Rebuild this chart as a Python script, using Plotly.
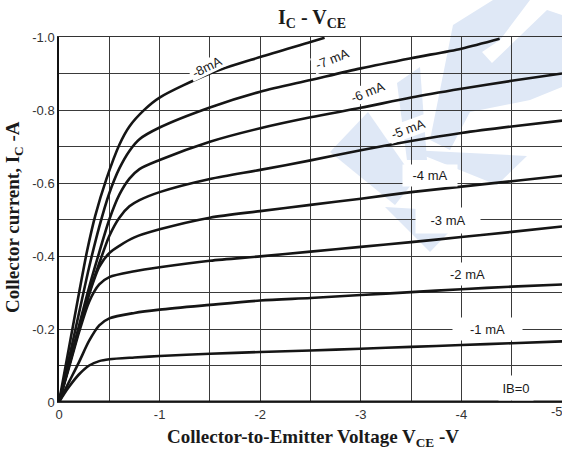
import plotly.graph_objects as go

# ---------------- data ----------------
ib_labels = ["-8mA", "-7 mA", "-6 mA", "-5 mA", "-4 mA", "-3 mA", "-2 mA", "-1 mA", "IB=0"]

vce_8 = [0, -0.1, -0.2, -0.28, -0.36, -0.47, -0.6, -0.7, -0.85, -1, -1.5, -2, -2.5, -2.64]
ic_8 = [0, -0.15, -0.3, -0.415, -0.51, -0.61, -0.705, -0.755, -0.801, -0.834, -0.9, -0.945, -0.986, -0.998]

vce_7 = [0, -0.1, -0.2, -0.3, -0.4, -0.5, -0.6, -0.7, -0.8, -1, -1.5, -2, -2.5, -3, -3.5, -4, -4.38]
ic_7 = [0, -0.12, -0.245, -0.37, -0.48, -0.572, -0.64, -0.688, -0.72, -0.752, -0.807, -0.85, -0.882, -0.914, -0.942, -0.968, -0.995]

vce_6 = [0, -0.1, -0.2, -0.3, -0.4, -0.5, -0.6, -0.7, -0.8, -1, -1.5, -2, -2.5, -3, -3.5, -4, -4.5, -5]
ic_6 = [0, -0.105, -0.21, -0.315, -0.41, -0.5, -0.568, -0.612, -0.638, -0.663, -0.713, -0.75, -0.78, -0.806, -0.834, -0.858, -0.88, -0.9]

vce_5 = [0, -0.1, -0.2, -0.3, -0.4, -0.5, -0.6, -0.7, -0.8, -1, -1.5, -2, -2.5, -3, -3.5, -4, -4.5, -5]
ic_5 = [0, -0.1, -0.2, -0.3, -0.38, -0.455, -0.505, -0.536, -0.553, -0.575, -0.611, -0.636, -0.662, -0.69, -0.715, -0.737, -0.755, -0.771]

vce_4 = [0, -0.1, -0.2, -0.3, -0.4, -0.5, -0.6, -0.75, -1, -1.5, -2, -2.5, -3, -3.5, -4, -4.5, -5]
ic_4 = [0, -0.1, -0.2, -0.295, -0.37, -0.408, -0.428, -0.451, -0.473, -0.505, -0.523, -0.54, -0.557, -0.575, -0.59, -0.605, -0.62]

vce_3 = [0, -0.1, -0.2, -0.3, -0.4, -0.5, -0.75, -1, -1.5, -2, -2.5, -3, -3.5, -4, -4.5, -5]
ic_3 = [0, -0.095, -0.192, -0.275, -0.322, -0.342, -0.358, -0.369, -0.387, -0.399, -0.412, -0.425, -0.438, -0.452, -0.466, -0.481]

vce_2 = [0, -0.1, -0.2, -0.3, -0.4, -0.5, -0.75, -1, -1.5, -2, -2.5, -3, -3.5, -4, -4.5, -5]
ic_2 = [0, -0.055, -0.11, -0.168, -0.21, -0.229, -0.244, -0.253, -0.266, -0.278, -0.285, -0.293, -0.301, -0.309, -0.316, -0.322]

vce_1 = [0, -0.05, -0.1, -0.2, -0.3, -0.4, -0.5, -0.75, -1, -1.5, -2, -2.5, -3, -3.5, -4, -4.5, -5]
ic_1 = [0, -0.022, -0.042, -0.076, -0.1, -0.112, -0.117, -0.122, -0.126, -0.132, -0.137, -0.141, -0.146, -0.151, -0.156, -0.161, -0.166]

vce_0 = [0, -5]
ic_0 = [0, 0]

x_tickvals = [0, -1, -2, -3, -4]
x_ticktext = ["0", "-1", "-2", "-3", "-4"]
x_last_tick = "-5"
x_gridvals = [-0.5, -1, -1.5, -2, -2.5, -3, -3.5, -4, -4.5]
y_tickvals = [0, -0.2, -0.4, -0.6, -0.8, -1.0]
y_ticktext = ["0", "-0.2", "-0.4", "-0.6", "-0.8", "-1.0"]
y_gridvals = [-0.1, -0.2, -0.3, -0.4, -0.5, -0.6, -0.7, -0.8, -0.9]

# label anchor positions (data coords) and label box styling
label_x = [-1.471, -2.714, -3.072, -3.469, -3.688, -3.867, -4.056, -4.259, -4.543]
label_y = [-0.918, -0.941, -0.848, -0.749, -0.6205, -0.497, -0.351, -0.200, -0.038]
label_angle = [-26, -22, -22, -20, 0, 0, 0, 0, 0]
label_w = [36, 40, 40, 40, 54, 64, 45, 69, 34]
label_h = [14, 16, 16, 16, 21, 25, 22, 22, 24]

# ---------------- figure ----------------
W, H = 562, 452
ML, MR, MT, MB = 59, 0, 37, 50
PW, PH = W - ML - MR, H - MT - MB

fig = go.Figure()
series = [(vce_8, ic_8), (vce_7, ic_7), (vce_6, ic_6), (vce_5, ic_5), (vce_4, ic_4),
          (vce_3, ic_3), (vce_2, ic_2), (vce_1, ic_1)]
for (xs, ys), name in zip(series, ib_labels[:8]):
    fig.add_trace(go.Scatter(x=xs, y=ys, mode="lines", name=name,
                             line=dict(color="#151515", width=2.6, shape="spline", smoothing=0.8),
                             hoverinfo="skip", showlegend=False))
fig.add_trace(go.Scatter(x=vce_0, y=ic_0, mode="lines", name="IB=0",
                         line=dict(color="#151515", width=3.2), cliponaxis=False,
                         hoverinfo="skip", showlegend=False))

# watermark logo (decoration, pixel polygons converted to paper coordinates)
WM = [
    [(330, 152), (368, 112), (415, 180), (395, 205)],
    [(385, 207), (468, 212), (430, 252)],
    [(410, 150), (527, 156), (497, 185)],
    [(397, 83), (420, 67), (427, 160), (407, 160)],
    [(430, 140), (453, 25), (493, 0), (530, 0), (500, 40), (482, 52), (492, 63), (547, 10),
     (562, 15), (562, 87), (530, 100), (470, 112), (450, 150)],
]
for poly in WM:
    pts = [((px - ML) / PW, (H - MB - py) / PH) for px, py in poly]
    path = "M " + " L ".join(f"{x:.4f},{y:.4f}" for x, y in pts) + " Z"
    fig.add_shape(type="path", path=path, xref="paper", yref="paper",
                  fillcolor="rgb(223,232,246)", line=dict(width=0), layer="below")

for t, x, y, a, w, h in zip(ib_labels, label_x, label_y, label_angle, label_w, label_h):
    fig.add_annotation(x=x, y=y, xref="x", yref="y", text=t, showarrow=False,
                       textangle=a, width=w, height=h, bgcolor="white", borderpad=0,
                       xanchor="center", yanchor="middle", align="center", valign="middle",
                       font=dict(family="Liberation Sans, Arial", size=13, color="#1a1a1a"))

axis_font = dict(family="Liberation Sans, Arial", size=13, color="#333333")
# last x tick label sits on the (cropped) right edge of the picture
fig.add_annotation(text=x_last_tick, xref="paper", yref="paper", x=(557 - ML) / PW,
                   y=(H - MB - 411) / PH, showarrow=False, xanchor="center", yanchor="middle",
                   font=axis_font)

serif = "Liberation Serif, Times New Roman, serif"
fig.add_annotation(text="<b>I<sub>C</sub> - V<sub>CE</sub></b>", xref="paper", yref="paper",
                   x=(312 - ML) / PW, y=(H - MB - 19) / PH, showarrow=False,
                   xanchor="center", yanchor="middle",
                   font=dict(family=serif, size=20, color="#1a1a1a"))
fig.add_annotation(text="<b>Collector current, I<sub>C</sub> -A</b>", xref="paper", yref="paper",
                   x=(14 - ML) / PW, y=(H - MB - 217) / PH, showarrow=False, textangle=-90,
                   xanchor="center", yanchor="middle",
                   font=dict(family=serif, size=19, color="#1a1a1a"))
fig.add_annotation(text="<b>Collector-to-Emitter Voltage V<sub>CE</sub> -V</b>", xref="paper", yref="paper",
                   x=(313 - ML) / PW, y=(H - MB - 438) / PH, showarrow=False,
                   xanchor="center", yanchor="middle",
                   font=dict(family=serif, size=19, color="#1a1a1a"))

grid = dict(showgrid=True, gridcolor="#3a3a3a", gridwidth=1, ticks="")
fig.update_xaxes(range=[0, -5], tickvals=x_tickvals, ticktext=x_ticktext, showgrid=False,
                 minor=dict(tickvals=x_gridvals, **grid),
                 zeroline=False, showline=True,
                 linecolor="#333333", linewidth=1, mirror=True, ticks="", tickfont=axis_font,
                 automargin=False, fixedrange=True)
fig.update_yaxes(range=[0, -1], tickvals=y_tickvals, ticktext=y_ticktext, showgrid=False,
                 minor=dict(tickvals=y_gridvals, **grid),
                 zeroline=False, showline=True,
                 linecolor="#111111", linewidth=1.5, ticks="", tickfont=axis_font,
                 automargin=False, fixedrange=True)
fig.update_layout(width=W, height=H, margin=dict(l=ML, r=MR, t=MT, b=MB, autoexpand=False),
                  paper_bgcolor="white", plot_bgcolor="rgba(0,0,0,0)", showlegend=False)

fig.write_html("out.html", config={"displayModeBar": False})
